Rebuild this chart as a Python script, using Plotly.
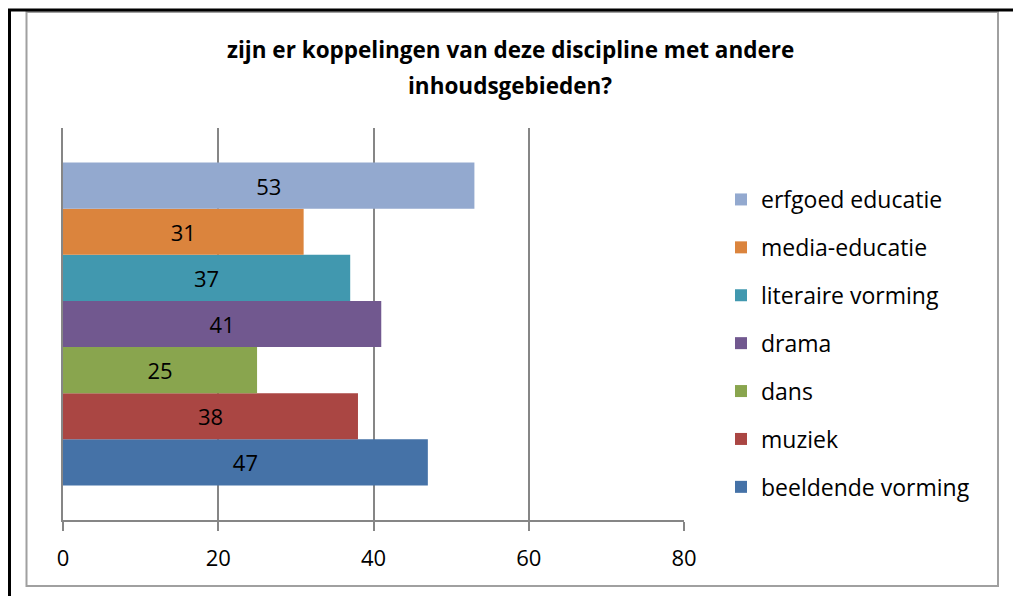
import plotly.graph_objects as go

series_names = ["beeldende vorming", "muziek", "dans", "drama",
                "literaire vorming", "media-educatie", "erfgoed educatie"]
series_values = [47, 38, 25, 41, 37, 31, 53]
series_colors = ["#4572A7", "#AA4643", "#89A54E", "#71588F",
                 "#4198AF", "#DB843D", "#93A9CF"]
category = [""]
x_ticks = [0, 20, 40, 60, 80]
title_lines = ["zijn er koppelingen van deze discipline met andere",
               "inhoudsgebieden?"]

FONT = "Open Sans, Liberation Sans, sans-serif"
FS = 22

fig = go.Figure()
n = len(series_names)
for i, (name, val, col) in enumerate(zip(series_names, series_values, series_colors)):
    fig.add_trace(go.Bar(
        y=category, x=[val], name=name, orientation="h",
        marker=dict(color=col, line=dict(width=0)),
        text=[str(val)], textposition="inside", insidetextanchor="middle",
        textfont=dict(color="black", size=FS, family=FONT),
        legendgroup=f"g{i}", legendrank=n - i,
    ))

L, R, T, B = 63, 684, 128, 520
W, H = 1013, 596
pw, ph = R - L, B - T

def px(x):
    return (x - L) / pw

def py(y):
    return (B - y) / ph

shapes = [
    dict(type="rect", xref="paper", yref="paper",
         x0=px(26.5), x1=px(998), y0=py(586), y1=py(12),
         line=dict(color="#A0A0A0", width=2), layer="below"),
    dict(type="line", xref="paper", yref="paper",
         x0=px(8), x1=px(1013), y0=py(10), y1=py(10),
         line=dict(color="black", width=3)),
    dict(type="line", xref="paper", yref="paper",
         x0=px(9.5), x1=px(9.5), y0=py(10), y1=py(600),
         line=dict(color="black", width=3)),
]

annotations = [
    dict(text="<b>" + t + "</b>", xref="paper", yref="paper",
         x=px(510), y=py(yy), xanchor="center", yanchor="middle",
         showarrow=False, font=dict(size=22.5, family=FONT, color="black"))
    for t, yy in zip(title_lines, [50, 85])
]

fig.update_layout(
    width=W, height=H,
    margin=dict(l=L, r=W - R, t=T, b=H - B, pad=0),
    paper_bgcolor="white", plot_bgcolor="white",
    barmode="group", bargap=0.176, bargroupgap=0,
    font=dict(family=FONT, color="black"),
    annotations=annotations,
    xaxis=dict(range=[0, 80], tickvals=x_ticks, ticktext=[str(v) for v in x_ticks],
               showgrid=True, gridcolor="#868686", gridwidth=1.5,
               showline=True, linecolor="#868686", linewidth=1.5,
               ticks="outside", ticklen=9, tickcolor="#868686", tickwidth=1.5,
               ticklabelstandoff=9,
               tickfont=dict(size=FS, family=FONT), zeroline=False,
               fixedrange=True),
    yaxis=dict(showticklabels=False, showline=True, linecolor="#868686",
               linewidth=1.5, showgrid=False, ticks="", fixedrange=True),
    legend=dict(x=px(721), y=py(178), xanchor="left", yanchor="top",
                traceorder="grouped", tracegroupgap=15,
                font=dict(size=23, family=FONT), itemwidth=30,
                bgcolor="rgba(0,0,0,0)"),
    shapes=shapes,
    showlegend=True,
)

fig.write_html("out.html", config={"displayModeBar": False},
               post_script="document.body.style.margin='0px';document.body.style.padding='0px';")
